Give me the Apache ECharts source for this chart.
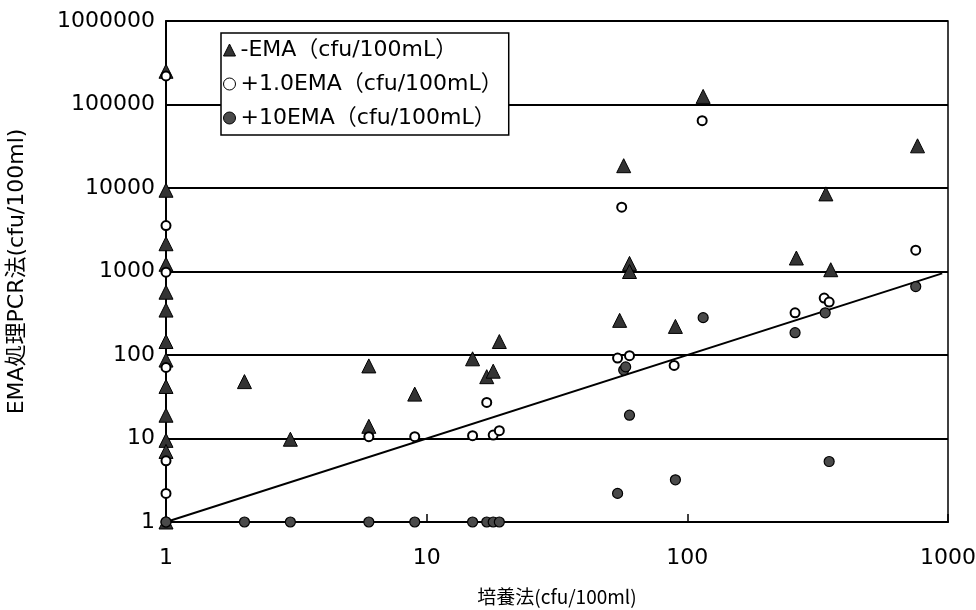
<!DOCTYPE html>
<html><head><meta charset="utf-8">
<script src="https://cdn.jsdelivr.net/npm/echarts@6/dist/echarts.min.js"></script>
<style>html,body{margin:0;padding:0;background:#fff}#c{width:976px;height:610px}</style>
</head><body><div id="c"></div>
<script>
const seriesNames = ['-EMA（cfu/100mL）', '+1.0EMA（cfu/100mL）', '+10EMA（cfu/100mL）'];
const xTicks = [1, 10, 100, 1000];
const yTicks = [1, 10, 100, 1000, 10000, 100000, 1000000];
const minusEMA = [
 [1,250000],[1,9400],[1,2150],[1,1220],[1,565],[1,345],[1,145],[1,87],[1,42],[1,19],[1,9.5],[1,7],[1,1],
 [2,48],[3,9.8],[6,74],[6,14],[9,34],[15,90],[17,55],[18,64],[19,145],
 [55,260],[57,18500],[60,1250],[60,1000],[90,220],[115,125000],
 [262,1450],[340,8500],[355,1050],[764,32000]
];
const plus1EMA = [
 [1,220000],[1,3550],[1,980],[1,71],[1,5.4],[1,2.2],[1,1],
 [6,10.5],[9,10.5],[15,10.8],[17,27],[18,11],[19,12.4],
 [54,92],[56,5900],[60,98],[89,75],[114,64000],
 [259,320],[335,480],[350,430],[752,1800]
];
const plus10EMA = [
 [1,1],[2,1],[3,1],[6,1],[9,1],[15,1],[17,1],[18,1],[19,1],
 [54,2.2],[57,66],[58,72],[60,19],[90,3.2],[115,280],
 [259,185],[338,320],[350,5.3],[752,660]
];
const trendLine = [[1,1],[950,950]];

const font = '"DejaVu Sans"';
const mixed = '"DejaVu Sans", "Noto Sans CJK JP"';
const jp = '"Noto Sans CJK JP"';
const chart = echarts.init(document.getElementById('c'), null, {renderer:'canvas'});
chart.setOption({
  animation: false,
  backgroundColor: '#fff',
  grid: {left:166, right:28, top:21, bottom:88, show:true, borderColor:'#000', borderWidth:1.5,
         containLabel:false, outerBoundsMode:'none'},
  legend: {
    orient:'vertical', left:221, top:33, padding:[6,6,6,2], itemGap:12,
    backgroundColor:'#fff', borderColor:'#000', borderWidth:1.5, borderRadius:0,
    itemWidth:12, itemHeight:12, itemStyle:{borderWidth:1},
    textStyle:{fontFamily: mixed, fontSize:22, color:'#000'},
    data: seriesNames
  },
  xAxis: {
    type:'log', logBase:10, min:1, max:1000,
    name:'培養法(cfu/100ml)', nameLocation:'middle', nameGap:65,
    nameTextStyle:{fontFamily: jp, fontSize:19, color:'#000'},
    axisLine:{show:true, lineStyle:{color:'#000', width:2}},
    axisTick:{show:true, inside:true, length:8, lineStyle:{color:'#000', width:1.5}},
    axisLabel:{margin:25, fontFamily:font, fontSize:22, color:'#000',
      formatter: v => xTicks.includes(Math.round(v)) ? String(Math.round(v)) : ''},
    splitLine:{show:false}, minorTick:{show:false}
  },
  yAxis: {
    type:'log', logBase:10, min:1, max:1000000,
    name:'EMA処理PCR法(cfu/100ml)', nameLocation:'middle', nameGap:138, nameRotate:90,
    nameTextStyle:{fontFamily: mixed, fontSize:22, color:'#000'},
    axisLine:{show:true, lineStyle:{color:'#000', width:2}},
    axisTick:{show:false},
    axisLabel:{margin:11, fontFamily:font, fontSize:22, color:'#000',
      formatter: v => yTicks.includes(Math.round(v)) ? String(Math.round(v)) : ''},
    splitLine:{show:true, lineStyle:{color:'#000', width:1.8}}
  },
  series: [
    {name:seriesNames[0], type:'scatter', symbol:'triangle', symbolSize:14, data:minusEMA, z:3,
     itemStyle:{color:'#333', borderColor:'#000', borderWidth:1, opacity:1}},
    {name:seriesNames[1], type:'scatter', symbol:'circle', symbolSize:9, data:plus1EMA, z:4,
     itemStyle:{color:'#fff', borderColor:'#000', borderWidth:2, opacity:1}},
    {name:seriesNames[2], type:'scatter', symbol:'circle', symbolSize:10, data:plus10EMA, z:5,
     itemStyle:{color:'#4a4a4a', borderColor:'#000', borderWidth:1.2, opacity:1}},
    {name:'trend', type:'line', data:trendLine, symbol:'none', z:2, silent:true,
     lineStyle:{color:'#000', width:2}}
  ]
});
</script></body></html>
